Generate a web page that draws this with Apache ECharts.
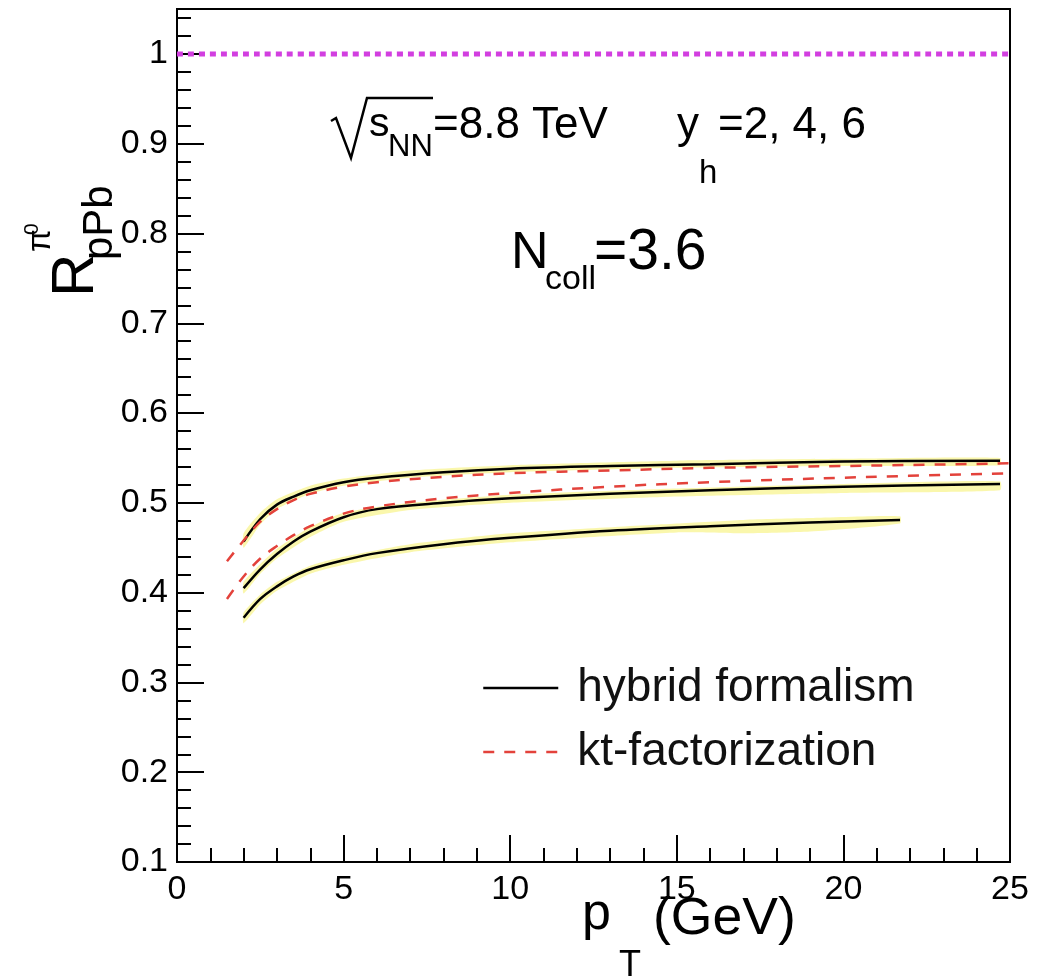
<!DOCTYPE html>
<html>
<head>
<meta charset="utf-8">
<script src="https://cdn.jsdelivr.net/npm/echarts@6/dist/echarts.min.js"></script>
<style>
html,body{margin:0;padding:0;background:#fff;}
#chart{width:1053px;height:979px;}
</style>
</head>
<body>
<div id="chart"></div>
<script>
// ---------------- data ----------------
const xTicks = [0, 5, 10, 15, 20, 25];
const yTicks = [0.1, 0.2, 0.3, 0.4, 0.5, 0.6, 0.7, 0.8, 0.9, 1];

// hybrid formalism (black solid), three rapidities
const pT_hyb_a = [2, 2.5, 3, 3.5, 4, 5, 6, 8, 10, 13, 16, 20, 24.7];
const hyb_a    = [0.457, 0.482, 0.498, 0.507, 0.514, 0.523, 0.528, 0.534, 0.538, 0.541, 0.543, 0.546, 0.547];
const pT_hyb_b = [2, 2.5, 3, 3.5, 4, 5, 6, 8, 10, 13, 16, 20, 24.7];
const hyb_b    = [0.405, 0.426, 0.443, 0.457, 0.468, 0.484, 0.493, 0.500, 0.505, 0.510, 0.514, 0.518, 0.521];
const pT_hyb_c = [2, 2.5, 3, 3.5, 4, 5, 6, 8, 10, 13, 16, 19, 21.7];
const hyb_c    = [0.372, 0.393, 0.407, 0.418, 0.426, 0.436, 0.444, 0.454, 0.461, 0.469, 0.474, 0.478, 0.481];

// kt-factorization (red dashed), two rapidities
const pT_kt_a = [1.5, 2, 2.5, 3, 3.5, 4, 5, 6, 8, 10, 13, 16, 20, 25];
const kt_a    = [0.435, 0.458, 0.479, 0.493, 0.503, 0.510, 0.518, 0.523, 0.529, 0.533, 0.536, 0.539, 0.541, 0.544];
const pT_kt_b = [1.5, 2, 2.5, 3, 3.5, 4, 5, 6, 8, 10, 13, 16, 20, 25];
const kt_b    = [0.393, 0.418, 0.438, 0.452, 0.464, 0.474, 0.488, 0.496, 0.505, 0.511, 0.518, 0.523, 0.528, 0.533];

// uncertainty bands (yellow) around the hybrid curves
const pT_band_a = [2, 2.5, 3, 4, 5, 7, 10, 15, 20, 24.7];
const band_a_lo = [0.450, 0.476, 0.493, 0.510, 0.519, 0.528, 0.534, 0.539, 0.541, 0.542];
const band_a_hi = [0.466, 0.489, 0.504, 0.519, 0.527, 0.536, 0.542, 0.547, 0.549, 0.550];
const pT_band_b = [2, 2.5, 3, 4, 5, 7, 10, 15, 20, 24.7];
const band_b_lo = [0.399, 0.421, 0.438, 0.462, 0.479, 0.492, 0.500, 0.507, 0.511, 0.514];
const band_b_hi = [0.412, 0.432, 0.449, 0.473, 0.489, 0.500, 0.509, 0.516, 0.521, 0.524];
const pT_band_c = [2, 2.5, 3, 4, 5, 7, 10, 15, 17, 19, 21.7];
const band_c_lo = [0.366, 0.387, 0.402, 0.421, 0.431, 0.445, 0.456, 0.467, 0.466, 0.468, 0.477];
const band_c_hi = [0.378, 0.398, 0.412, 0.430, 0.440, 0.454, 0.466, 0.477, 0.481, 0.483, 0.485];

// reference line R = 1
const pT_unity = [0, 25];
const unity    = [1, 1];

// ---------------- chart ----------------
const FONT = "'Liberation Sans', Arial, Helvetica, sans-serif";
const chart = echarts.init(document.getElementById('chart'), null, {renderer: 'canvas'});

function pairs(xs, ys) { return xs.map((x, i) => [x, ys[i]]); }
function bandData(xs, lo, hi) { return xs.map((x, i) => [x, lo[i], hi[i]]); }

function bandSeries(name, xs, lo, hi) {
  return {
    type: 'custom', name: name, silent: true, z: 1, clip: true,
    data: bandData(xs, lo, hi),
    encode: {x: 0, y: [1, 2]},
    renderItem: function (params, api) {
      if (params.dataIndex !== 0) return null;
      const pts = [];
      for (let i = 0; i < xs.length; i++) pts.push(api.coord([xs[i], hi[i]]));
      for (let i = xs.length - 1; i >= 0; i--) pts.push(api.coord([xs[i], lo[i]]));
      return {type: 'polygon', shape: {points: pts, smooth: 0.2},
              style: {fill: 'rgba(246,240,90,0.5)'}};
    }
  };
}

function lineSeries(name, xs, ys, color, type, width, z) {
  return {
    type: 'line', name: name, data: pairs(xs, ys), showSymbol: false, symbol: 'none',
    smooth: 0.35, z: z, silent: true,
    lineStyle: {color: color, width: width, type: type},
    itemStyle: {color: color}
  };
}

// text helper: x = left edge, base = baseline
function T(str, x, base, size, extra) {
  const el = {
    type: 'text', x: x, y: base - 0.35 * size, silent: true,
    style: {text: str, x: 0, y: 0, fontSize: size, fontFamily: FONT, fill: '#000',
            align: 'left', verticalAlign: 'middle', textAlign: 'left', textVerticalAlign: 'middle'}
  };
  if (extra) {
    if (extra.scaleX) el.scaleX = extra.scaleX;
    if (extra.fontWeight) el.style.fontWeight = extra.fontWeight;
  }
  return el;
}

const option = {
  backgroundColor: '#fff',
  animation: false,
  grid: {left: 177, right: 43, top: 9, bottom: 117, show: true,
         borderColor: '#000', borderWidth: 2, backgroundColor: 'transparent'},
  xAxis: {
    type: 'value', min: xTicks[0], max: xTicks[xTicks.length - 1], interval: 5,
    axisLine: {show: true, onZero: false, lineStyle: {color: '#000', width: 2}},
    axisTick: {show: true, inside: true, length: 27, lineStyle: {color: '#000', width: 2}},
    minorTick: {show: true, splitNumber: 5, length: 14, lineStyle: {color: '#000', width: 2}},
    splitLine: {show: false},
    axisLabel: {fontSize: 34, fontFamily: FONT, color: '#000', margin: 11,
                formatter: v => (xTicks.indexOf(v) >= 0 ? String(v) : '')}
  },
  yAxis: {
    type: 'value', min: 0.1, max: 1.05, interval: 0.1,
    axisLine: {show: true, onZero: false, lineStyle: {color: '#000', width: 2}},
    axisTick: {show: true, inside: true, length: 27, lineStyle: {color: '#000', width: 2}},
    minorTick: {show: true, splitNumber: 5, length: 14, lineStyle: {color: '#000', width: 2}},
    splitLine: {show: false},
    axisLabel: {fontSize: 34, fontFamily: FONT, color: '#000', margin: 9, showMaxLabel: false,
                formatter: function (v) {
                  const r = Math.round(v * 100) / 100;
                  const hit = yTicks.find(t => Math.abs(t - r) < 1e-6);
                  return hit === undefined ? '' : String(hit);
                }}
  },
  legend: {
    orient: 'vertical', left: 477, top: 660, itemWidth: 75, itemHeight: 14, itemGap: 18,
    data: ['hybrid formalism', 'kt-factorization'],
    selectedMode: false,
    itemStyle: {opacity: 0},
    lineStyle: {width: 2.5},
    textStyle: {fontSize: 46, fontFamily: FONT, color: '#111', padding: [0, 0, 0, 14]}
  },
  graphic: [
    // sqrt(s_NN) = 8.8 TeV    y_h = 2, 4, 6
    {type: 'polyline', silent: true,
     shape: {points: [[331, 121], [336, 118], [351, 158], [367, 98], [433, 98]]},
     style: {stroke: '#000', lineWidth: 2.5, fill: null}},
    T('s', 369, 139, 41),
    T('NN', 388, 158, 31),
    T('=8.8 TeV', 433, 141, 44),
    T('y', 677, 141, 44),
    T('h', 699, 185, 33),
    T('=2, 4, 6', 718, 141, 44),
    // N_coll = 3.6
    T('N', 511, 272, 52),
    T('coll', 545, 292, 34),
    T('=3.6', 594, 273, 57),
    // x-axis title
    T('p', 582, 933, 52),
    T('T', 619, 979, 36),
    T('(GeV)', 653, 938, 51, {scaleX: 1.05}),
    // y-axis title (rotated)
    {type: 'group', x: 97, y: 297, rotation: Math.PI / 2, silent: true,
     children: [
       T('R', 0, 0, 60),
       T('\u03c0', 45, -45, 33),
       T('0', 62, -57, 21),
       T('pPb', 37, 18, 42)
     ]}
  ],
  series: [
    bandSeries('band a', pT_band_a, band_a_lo, band_a_hi),
    bandSeries('band b', pT_band_b, band_b_lo, band_b_hi),
    bandSeries('band c', pT_band_c, band_c_lo, band_c_hi),
    lineSeries('unity', pT_unity, unity, '#d23fe0', [6, 5], 5, 3),
    lineSeries('hybrid formalism', pT_hyb_a, hyb_a, '#000', 'solid', 2.5, 4),
    lineSeries('hybrid formalism', pT_hyb_b, hyb_b, '#000', 'solid', 2.5, 4),
    lineSeries('hybrid formalism', pT_hyb_c, hyb_c, '#000', 'solid', 2.5, 4),
    lineSeries('kt-factorization', pT_kt_a, kt_a, '#e3423b', [11, 10], 2.5, 5),
    lineSeries('kt-factorization', pT_kt_b, kt_b, '#e3423b', [11, 10], 2.5, 5)
  ]
};
chart.setOption(option);
</script>
</body>
</html>
